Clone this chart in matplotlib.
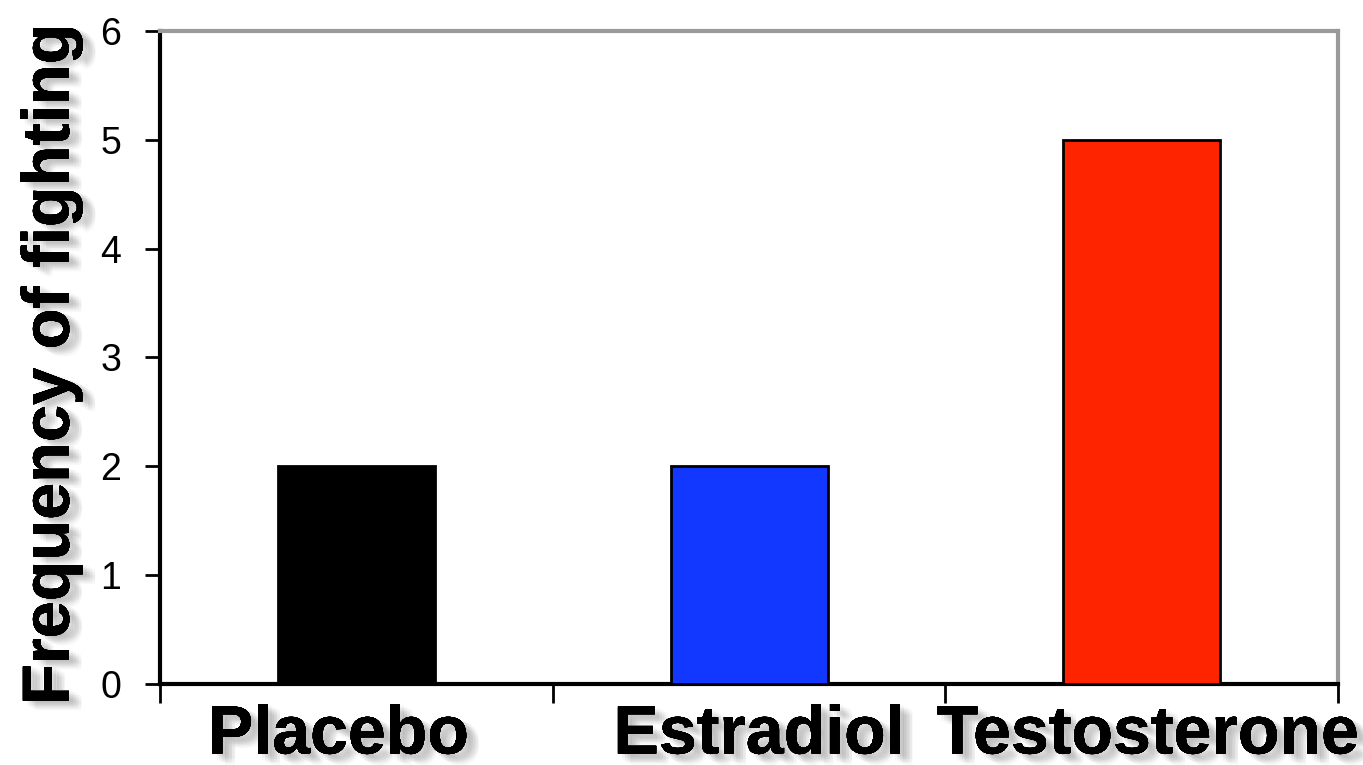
import matplotlib.pyplot as plt
import matplotlib.patheffects as pe
import matplotlib.transforms as mtransforms
from matplotlib import font_manager

groups = ["Placebo", "Estradiol", "Testosterone"]
fights = [2, 2, 5]
bar_colors = ["#000000", "#1238FF", "#FF2400"]

# narrow face for the small y tick numbers, if one is around
installed = {f.name for f in font_manager.fontManager.ttflist}
narrow = next((n for n in ["Liberation Sans Narrow", "DejaVu Sans Condensed", "Liberation Sans"]
               if n in installed), "DejaVu Sans")

# soft grey drop shadow behind the big labels (several faint layers ~ blur)
def shadow(dx, dy):
    fx = []
    for k in range(0, 7, 2):
        for j in (-2, 0, 2):
            fx.append(pe.withSimplePatchShadow(offset=(dx + k, dy - k // 2 + j),
                                               shadow_rgbFace="#888888", alpha=0.06))
    fx.append(pe.Normal())
    return fx

fig = plt.figure(figsize=(13.63, 7.65), dpi=100)
ax = fig.add_axes([0.1174, 0.1059, 0.8643, 0.8536])

pos = range(len(groups))
ax.bar(pos, fights, width=0.4, color=bar_colors, edgecolor="black", linewidth=2, zorder=3)

ax.set_xlim(-0.5, 2.5)
ax.set_ylim(0, 6)
ax.set_yticks(range(0, 7))

for s in ["left", "bottom"]:
    ax.spines[s].set_linewidth(3)
    ax.spines[s].set_color("black")
for s in ["top", "right"]:
    ax.spines[s].set_linewidth(3)
    ax.spines[s].set_color("#9a9a9a")

ax.tick_params(axis="y", direction="out", length=11, width=2, pad=17,
               labelsize=27, labelfontfamily=narrow)

# category boundaries get the x tick marks, labels sit at the centres
ax.set_xticks([-0.5, 0.5, 1.5, 2.5], minor=True)
ax.tick_params(axis="x", which="minor", direction="out", length=14, width=2)
ax.set_xticks(list(pos))
ax.set_xticklabels(groups)
ax.tick_params(axis="x", which="major", length=0, pad=14)
nudge = [-18, 10, 6]
for lab, dx in zip(ax.get_xticklabels(), nudge):
    lab.set_fontsize(49)
    lab.set_fontweight("bold")
    lab.set_fontfamily(["Liberation Sans", "DejaVu Sans"])
    lab.set_path_effects(shadow(3, -3))
    lab.set_transform(lab.get_transform() +
                      mtransforms.ScaledTranslation(dx / 100, 0, fig.dpi_scale_trans))

fig.text(0.038, 0.523, "Frequency of fighting", rotation=90, ha="center", va="center",
         fontsize=48, fontweight="bold", family=["Liberation Sans", "DejaVu Sans"],
         path_effects=shadow(3, -2))

fig.savefig("out.png", dpi=100)
